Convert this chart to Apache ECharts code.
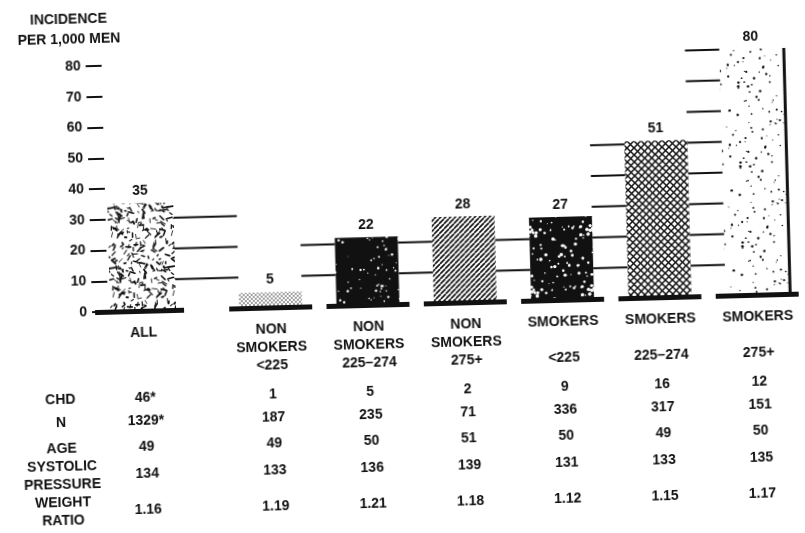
<!DOCTYPE html>
<html>
<head>
<meta charset="utf-8">
<title>Incidence per 1,000 men</title>
<script src="https://cdn.jsdelivr.net/npm/echarts@6.0.0/dist/echarts.min.js"></script>
<style>
  html, body { margin: 0; padding: 0; background: #fff; overflow: hidden; }
  /* the scanned original sits slightly askew */
  #chart { width: 805px; height: 533px; transform: rotate(-1.5deg); }
</style>
</head>
<body>
<div id="chart"></div>
<script>
const categories = ['ALL', 'NON\nSMOKERS\n<225', 'NON\nSMOKERS\n225–274', 'NON\nSMOKERS\n275+',
                    'SMOKERS\n\n<225', 'SMOKERS\n\n225–274', 'SMOKERS\n\n275+'];
const incidence = [35, 5, 22, 28, 27, 51, 80];

const rowNames = ['CHD', 'N', 'AGE', 'SYSTOLIC\nPRESSURE', 'WEIGHT\nRATIO'];
const chd = ['46*', '1', '5', '2', '9', '16', '12'];
const nMen = ['1329*', '187', '235', '71', '336', '317', '151'];
const age = ['49', '49', '50', '51', '50', '49', '50'];
const systolic = ['134', '133', '136', '139', '131', '133', '135'];
const weightRatio = ['1.16', '1.19', '1.21', '1.18', '1.12', '1.15', '1.17'];
const tableRows = [chd, nMen, age, systolic, weightRatio];

const ink = '#111';
const font = 'Liberation Sans, Arial, sans-serif';
const gridA = { left: 107, width: 70, top: 58, bottom: 229 };
const gridB = { left: 221, right: -13, top: 58, bottom: 229 };
const allBarW = 66, barW = 63;
const rowOffsets = [87, 110, 136, 163, 199];

// deterministic speckle generator for the printed textures
let seed = 12345;
function rnd() { seed = (seed * 16807) % 2147483647; return seed / 2147483647; }

function tile(size, draw) {
  const c = document.createElement('canvas');
  c.width = c.height = size;
  const ctx = c.getContext('2d');
  draw(ctx, size);
  return { image: c, repeat: 'repeat' };
}
function wrapped(size, fn) {
  for (const dx of [-size, 0, size]) for (const dy of [-size, 0, size]) fn(dx, dy);
}
function blobs(bg, fg, count, rMin, rMax, strokes) {
  return function (ctx, s) {
    ctx.fillStyle = bg; ctx.fillRect(0, 0, s, s);
    ctx.fillStyle = fg; ctx.strokeStyle = fg; ctx.lineCap = 'round';
    for (let k = 0; k < count; k++) {
      const x = rnd() * s, y = rnd() * s, r = rMin + rnd() * (rMax - rMin);
      const a = rnd() * Math.PI, len = strokes ? 1.5 + rnd() * 4 : 0;
      wrapped(s, function (dx, dy) {
        if (strokes) {
          ctx.lineWidth = r;
          ctx.beginPath();
          ctx.moveTo(x + dx, y + dy);
          ctx.lineTo(x + dx + Math.cos(a) * len, y + dy + Math.sin(a) * len);
          ctx.stroke();
        } else {
          ctx.beginPath(); ctx.arc(x + dx, y + dy, r, 0, Math.PI * 2); ctx.fill();
        }
      });
    }
  };
}

const patterns = [
  tile(60, blobs('#fff', ink, 150, 0.8, 1.9, true)),
  tile(4, function (ctx, s) {
    ctx.fillStyle = '#fff'; ctx.fillRect(0, 0, s, s);
    ctx.fillStyle = '#222';
    ctx.beginPath(); ctx.arc(1, 1, 0.8, 0, 7); ctx.fill();
    ctx.beginPath(); ctx.arc(3, 3, 0.8, 0, 7); ctx.fill();
  }),
  tile(60, blobs(ink, '#fff', 45, 0.4, 1.3, false)),
  tile(5, function (ctx, s) {
    ctx.fillStyle = '#fff'; ctx.fillRect(0, 0, s, s);
    ctx.strokeStyle = ink; ctx.lineWidth = 1.6;
    for (const o of [-s, 0, s]) {
      ctx.beginPath(); ctx.moveTo(o, s); ctx.lineTo(o + s, 0); ctx.stroke();
    }
  }),
  tile(60, blobs(ink, '#fff', 70, 0.5, 1.8, false)),
  tile(7, function (ctx, s) {
    ctx.fillStyle = '#fff'; ctx.fillRect(0, 0, s, s);
    ctx.strokeStyle = ink; ctx.lineWidth = 1.5;
    for (const o of [-s, 0, s]) {
      ctx.beginPath(); ctx.moveTo(o, s); ctx.lineTo(o + s, 0); ctx.stroke();
      ctx.beginPath(); ctx.moveTo(o, 0); ctx.lineTo(o + s, s); ctx.stroke();
    }
  }),
  tile(80, blobs('#fff', ink, 80, 0.5, 1.3, false))
];

const labelStyle = { show: true, position: 'top', distance: 5, color: ink,
                     fontFamily: font, fontWeight: 'bold', fontSize: 14 };

function tableAxes(gridIndex, pick) {
  return tableRows.map(function (row, k) {
    return {
      type: 'category', gridIndex: gridIndex, position: 'bottom', offset: rowOffsets[k],
      data: pick(row),
      name: gridIndex === 0 ? rowNames[k] : '',
      nameLocation: 'start', nameGap: 50,
      nameTextStyle: { align: 'center', verticalAlign: 'middle', color: ink, fontFamily: font,
                       fontWeight: 'bold', fontSize: 14, lineHeight: 18 },
      axisLine: { show: false }, axisTick: { show: false },
      axisLabel: { interval: 0, margin: 0, verticalAlign: 'middle', color: ink,
                   fontFamily: font, fontWeight: 'bold', fontSize: 14 }
    };
  });
}

const myChart = echarts.init(document.getElementById('chart'));
const option = {
  animation: false,
  backgroundColor: '#fff',
  grid: [gridA, gridB],
  xAxis: [
    {
      type: 'category', gridIndex: 0, data: categories.slice(0, 1),
      axisLine: { show: false }, axisTick: { show: false },
      axisLabel: { interval: 0, margin: 13, lineHeight: 18, color: ink,
                   fontFamily: font, fontWeight: 'bold', fontSize: 14 }
    },
    {
      type: 'category', gridIndex: 1, data: categories.slice(1),
      axisLine: { show: false }, axisTick: { show: false },
      axisLabel: { interval: 0, margin: 13, lineHeight: 18, color: ink,
                   fontFamily: font, fontWeight: 'bold', fontSize: 14 }
    }
  ].concat(tableAxes(0, function (r) { return r.slice(0, 1); }),
           tableAxes(1, function (r) { return r.slice(1); })),
  yAxis: [
    {
      type: 'value', gridIndex: 0, min: 0, max: 80, interval: 10,
      name: 'INCIDENCE\nPER 1,000 MEN', nameLocation: 'end', nameGap: 17,
      nameTextStyle: { align: 'center', padding: [0, 64, 0, 0], lineHeight: 20, color: ink,
                       fontFamily: font, fontWeight: 'bold', fontSize: 14 },
      axisLine: { show: false },
      axisTick: { show: true, length: 16, lineStyle: { color: ink, width: 2 } },
      axisLabel: { margin: 21, color: ink, fontFamily: font, fontWeight: 'bold', fontSize: 14 },
      splitLine: { show: false }
    },
    { type: 'value', gridIndex: 1, min: 0, max: 80, interval: 10, show: false, splitLine: { show: false } }
  ],
  series: [
    {
      name: 'All', type: 'bar', xAxisIndex: 0, yAxisIndex: 0, barWidth: allBarW,
      data: [{ value: incidence[0], itemStyle: { color: patterns[0] } }],
      label: labelStyle
    },
    {
      name: 'Groups', type: 'bar', xAxisIndex: 1, yAxisIndex: 1, barWidth: barW,
      data: incidence.slice(1).map(function (v, i) {
        const item = { value: v, itemStyle: { color: patterns[i + 1] } };
        if (i === 5) {
          item.itemStyle.shadowColor = ink;
          item.itemStyle.shadowOffsetX = 3;
          item.itemStyle.shadowBlur = 0;
        }
        return item;
      }),
      label: labelStyle
    },
    {
      // heavy base under the ALL bar
      type: 'custom', xAxisIndex: 0, yAxisIndex: 0, clip: false, z: 5,
      data: [[0, incidence[0]]],
      renderItem: function (params, api) {
        const p = api.coord([api.value(0), 0]);
        return { type: 'rect', shape: { x: p[0] - allBarW / 2 - 15, y: p[1] - 2, width: allBarW + 23, height: 5 },
                 style: { fill: ink } };
      }
    },
    {
      // heavy bases and the rule segments between neighbouring bars
      type: 'custom', xAxisIndex: 1, yAxisIndex: 1, clip: false, z: 5,
      data: incidence.slice(1).map(function (v, i) { return [i, v]; }),
      renderItem: function (params, api) {
        const i = api.value(0), v = api.value(1);
        const p0 = api.coord([i, 0]);
        const left = p0[0] - barW / 2;
        const children = [{ type: 'rect', shape: { x: left - 10, y: p0[1] - 2, width: barW + 20, height: 5 },
                            style: { fill: ink } }];
        const prevV = incidence[i];
        const prevRight = i === 0 ? gridA.left + gridA.width / 2 + allBarW / 2
                                  : api.coord([i - 1, 0])[0] + barW / 2;
        for (let lv = 10; lv <= Math.max(prevV, v); lv += 10) {
          const y = api.coord([i, lv])[1];
          children.push({ type: 'line', shape: { x1: prevRight, y1: y, x2: left, y2: y },
                          style: { stroke: ink, lineWidth: 2 } });
        }
        return { type: 'group', children: children };
      }
    }
  ]
};
myChart.setOption(option);
window.addEventListener('resize', function () { myChart.resize(); });
</script>
</body>
</html>
